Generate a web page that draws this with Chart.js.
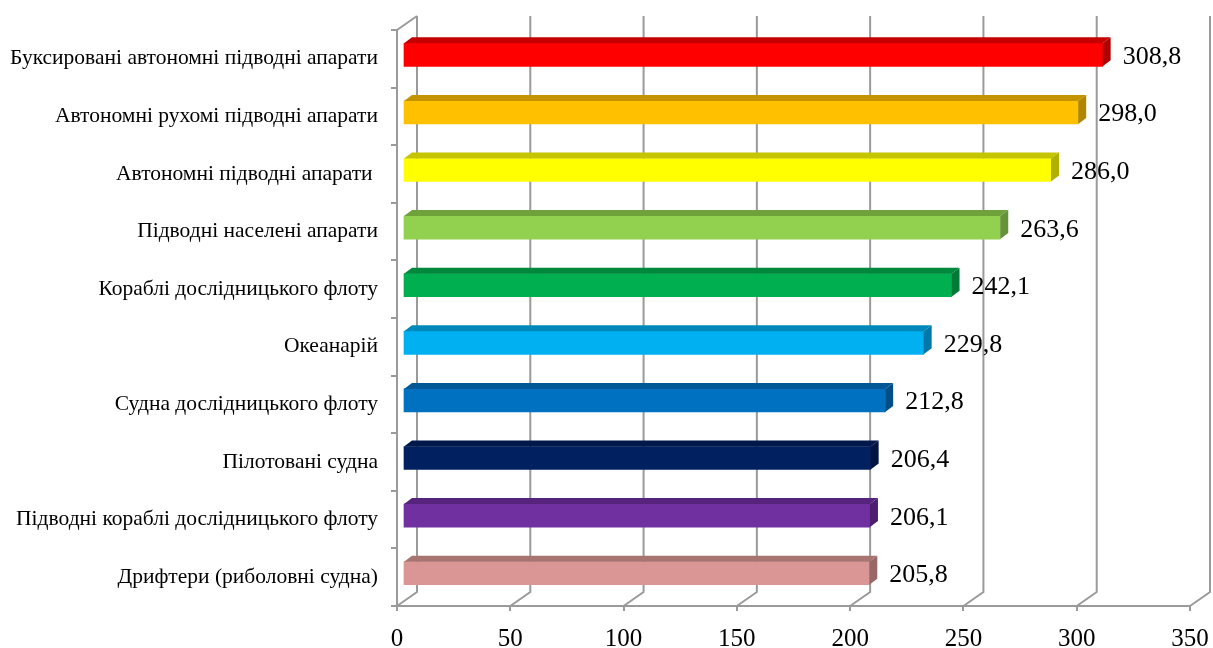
<!DOCTYPE html>
<html lang="uk">
<head>
<meta charset="utf-8">
<title>Підводні апарати та судна</title>
<script src="https://cdn.jsdelivr.net/npm/chart.js@4/dist/chart.umd.min.js"></script>
<style>
  html, body { margin: 0; padding: 0; background: #ffffff; }
  #wrap { width: 1213px; height: 648px; }
</style>
</head>
<body>
<div id="wrap"><canvas id="chart" width="1213" height="648"></canvas></div>
<script>
// Categories, top to bottom
const categories = [
  'Буксировані автономні підводні апарати',
  'Автономні рухомі підводні апарати',
  'Автономні підводні апарати ',
  'Підводні населені апарати',
  'Кораблі дослідницького флоту',
  'Океанарій',
  'Судна дослідницького флоту',
  'Пілотовані судна',
  'Підводні кораблі дослідницького флоту',
  'Дрифтери (риболовні судна)'
];
const values = [308.8, 298.0, 286.0, 263.6, 242.1, 229.8, 212.8, 206.4, 206.1, 205.8];
const xTicks = [0, 50, 100, 150, 200, 250, 300, 350];

// Face colours: front, top (lit from above) and right side
const frontColors = ['#FF0000', '#FFC000', '#FFFF00', '#92D050', '#00B050', '#00B0F0', '#0070C0', '#002060', '#7030A0', '#D99694'];
const topColors   = ['#C40000', '#C49400', '#C4C400', '#70A23C', '#00893D', '#0088BB', '#005796', '#00184A', '#56247C', '#A87472'];
const sideColors  = ['#B00000', '#B08500', '#B0B000', '#64923A', '#007A36', '#0079A8', '#004E86', '#001540', '#4C206E', '#986866'];

const FONT = "'Liberation Serif', 'Times New Roman', serif";
const GRID = '#9a9a9a';
const WALL = { x: 20, y: -14 };      // depth of the floor / back wall
const BAR_SHIFT = { x: 6, y: -4 };   // bars sit slightly behind the front plane
const BAR_DEPTH = { x: 8, y: -6 };   // thickness of each bar in depth

const fmt = v => v.toFixed(1).replace('.', ',');

const pseudo3d = {
  id: 'pseudo3d',
  beforeDatasetsDraw(chart) {
    const { ctx, chartArea: a, scales: { x } } = chart;
    ctx.save();
    ctx.strokeStyle = GRID;
    ctx.lineWidth = 2;
    ctx.lineJoin = 'miter';
    // top edge of the left wall
    ctx.beginPath();
    ctx.moveTo(a.left, a.top);
    ctx.lineTo(a.left + WALL.x, a.top + WALL.y);
    ctx.stroke();
    // floor diagonals and back-wall gridlines
    xTicks.forEach(v => {
      const px = x.getPixelForValue(v);
      ctx.beginPath();
      ctx.moveTo(px, a.bottom);
      ctx.lineTo(px + WALL.x, a.bottom + WALL.y);
      ctx.lineTo(px + WALL.x, a.top + WALL.y);
      ctx.stroke();
    });
    ctx.restore();
    ctx.save();
    ctx.translate(BAR_SHIFT.x, BAR_SHIFT.y);
  },
  afterDatasetsDraw(chart) {
    const { ctx } = chart;
    const meta = chart.getDatasetMeta(0);
    meta.data.forEach((bar, i) => {
      const p = bar.getProps(['x', 'y', 'base', 'height'], true);
      const top = p.y - p.height / 2;
      const bottom = p.y + p.height / 2;
      // top face
      ctx.fillStyle = topColors[i];
      ctx.beginPath();
      ctx.moveTo(p.base, top);
      ctx.lineTo(p.x, top);
      ctx.lineTo(p.x + BAR_DEPTH.x, top + BAR_DEPTH.y);
      ctx.lineTo(p.base + BAR_DEPTH.x, top + BAR_DEPTH.y);
      ctx.closePath();
      ctx.fill();
      // right side face
      ctx.fillStyle = sideColors[i];
      ctx.beginPath();
      ctx.moveTo(p.x, top);
      ctx.lineTo(p.x + BAR_DEPTH.x, top + BAR_DEPTH.y);
      ctx.lineTo(p.x + BAR_DEPTH.x, bottom + BAR_DEPTH.y);
      ctx.lineTo(p.x, bottom);
      ctx.closePath();
      ctx.fill();
      // value label
      ctx.fillStyle = '#000000';
      ctx.font = '26px ' + FONT;
      ctx.textAlign = 'left';
      ctx.textBaseline = 'alphabetic';
      ctx.fillText(fmt(values[i]), p.x + 20, p.y + 9);
    });
    ctx.restore();
  }
};

new Chart(document.getElementById('chart'), {
  type: 'bar',
  data: {
    labels: categories,
    datasets: [{
      data: values,
      backgroundColor: frontColors,
      borderWidth: 0,
      barThickness: 23,
      clip: false
    }]
  },
  options: {
    indexAxis: 'y',
    responsive: false,
    devicePixelRatio: 1,
    animation: false,
    layout: { padding: { top: 30, right: 23, left: 0, bottom: 0 } },
    plugins: { legend: { display: false }, tooltip: { enabled: false } },
    scales: {
      x: {
        type: 'linear',
        min: 0,
        max: 350,
        afterBuildTicks: s => { s.ticks = xTicks.map(v => ({ value: v })); },
        afterFit: s => { s.height = 42; s.paddingLeft = 0; s.paddingRight = 0; },
        grid: { drawOnChartArea: false, drawTicks: true, tickLength: 5, color: GRID, lineWidth: 2 },
        border: { display: true, color: GRID, width: 2 },
        ticks: { color: '#000000', font: { family: FONT, size: 25 }, padding: 13, maxRotation: 0 }
      },
      y: {
        type: 'category',
        afterFit: s => { s.width = 397; s.paddingTop = 0; s.paddingBottom = 0; },
        grid: { drawOnChartArea: false, drawTicks: true, tickLength: 6, color: GRID, lineWidth: 2, offset: true },
        border: { display: true, color: GRID, width: 2 },
        ticks: { color: '#000000', font: { family: FONT, size: 21.5 }, padding: 13, autoSkip: false }
      }
    }
  },
  plugins: [pseudo3d]
});
</script>
</body>
</html>
